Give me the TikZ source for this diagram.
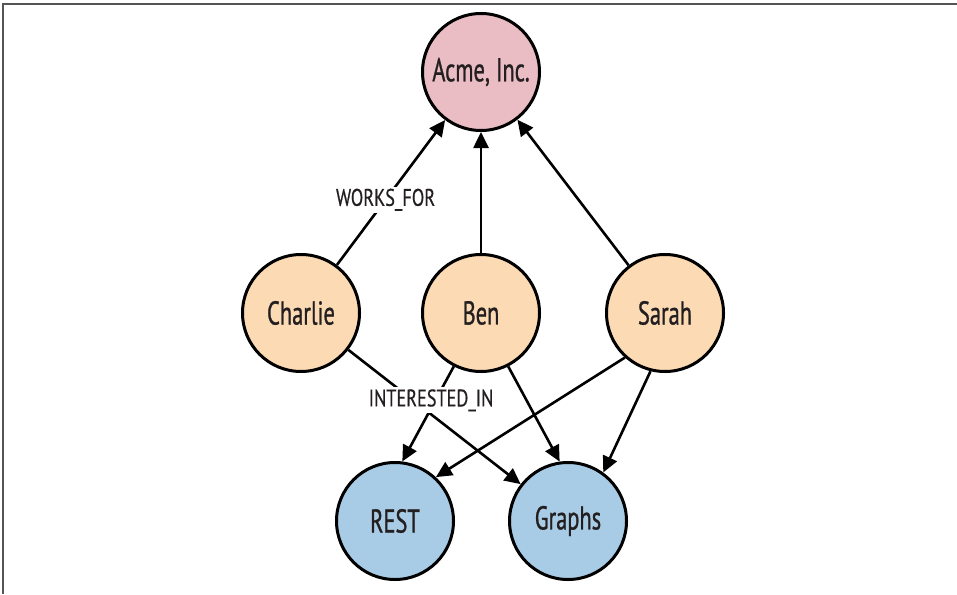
\documentclass[tikz,border=0pt]{standalone}
\usepackage{fontspec}
\setmainfont[FakeStretch=0.68,FakeBold=0.8]{PT Sans}
\newfontfamily\labelfont[FakeStretch=0.76,FakeBold=0.5]{PT Sans}
\usetikzlibrary{arrows.meta}
\definecolor{acmepink}{RGB}{234,188,196}
\definecolor{personpeach}{RGB}{252,218,180}
\definecolor{topicblue}{RGB}{168,204,230}
\definecolor{inktext}{RGB}{35,31,32}
\definecolor{framegray}{RGB}{85,85,85}
\begin{document}
\begin{tikzpicture}[x=1pt,y=-1pt,
  gnode/.style={circle,draw=black,line width=3pt,minimum size=117pt,inner sep=0pt,text=inktext,font=\fontsize{33}{33}\selectfont},
  rel/.style={line width=2.6pt,-{Triangle[length=16pt,width=15pt]}},
  rellabel/.style={fill=white,inner sep=2pt,text=inktext,font=\labelfont\fontsize{24}{24}\selectfont}]
\useasboundingbox (0,0) rectangle (957,594);
\draw[line width=2.2pt,color=framegray] (3,594) -- (3,4) -- (957,4);

\node[gnode,fill=acmepink] (acme) at (481,72) {Acme, Inc.};
\node[gnode,fill=personpeach] (charlie) at (301,313) {Charlie};
\node[gnode,fill=personpeach] (ben) at (481,313) {Ben};
\node[gnode,fill=personpeach] (sarah) at (665,313) {Sarah};
\node[gnode,fill=topicblue] (rest) at (395,521) {REST};
\node[gnode,fill=topicblue] (graphs) at (568,521) {Graphs};

\draw[rel] (charlie) -- node[rellabel,pos=0.45]{WORKS\_FOR} (acme);
\draw[rel] (ben) -- (acme);
\draw[rel] (sarah) -- (acme);
\draw[rel] (ben.-117) -- (rest.83);
\draw[rel] (ben.-63) -- (graphs.98);
\draw[rel] (sarah.-132) -- (rest.47);
\draw[rel] (sarah.-104) -- (graphs.54);
\draw[rel] (charlie) -- node[rellabel,pos=0.48,yshift=14pt]{INTERESTED\_IN} (graphs);
\end{tikzpicture}
\end{document}
